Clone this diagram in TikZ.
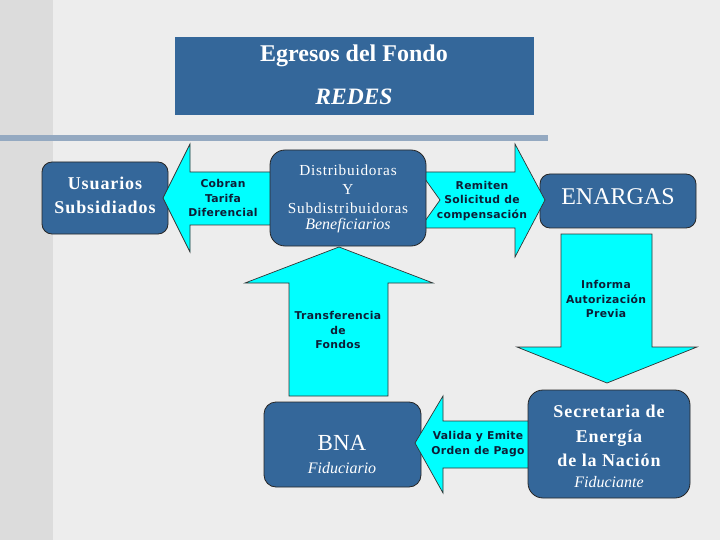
\documentclass[tikz,border=0pt]{standalone}
\usepackage{fontspec}
\setmainfont{Liberation Serif}
\newfontfamily\spserif[LetterSpace=5]{Liberation Serif}
\newfontfamily\arrfont[LetterSpace=3]{DejaVu Sans}
\definecolor{bg}{HTML}{EDEDED}
\definecolor{strip}{HTML}{DCDCDC}
\definecolor{barc}{HTML}{94A9C1}
\definecolor{boxc}{HTML}{34679A}
\definecolor{arrc}{HTML}{00FFFF}
\definecolor{arrtext}{HTML}{0E1E36}
\tikzset{
  box/.style={draw=black!85, line width=0.8pt, fill=boxc, inner sep=0pt},
  arr/.style={draw=black!80, line width=0.7pt, fill=arrc, line join=miter},
  wtxt/.style={text=white, align=center, inner sep=0pt},
  atxt/.style={text=arrtext, align=center, inner sep=0pt,
    font={\arrfont\bfseries\fontsize{10.8}{14.3}\selectfont}}
}
\begin{document}
\begin{tikzpicture}[x=1pt,y=-1pt]
\useasboundingbox (0,0) rectangle (720,540);
% background
\fill[bg] (0,0) rectangle (720,540);
\fill[strip] (0,0) rectangle (53,540);
\fill[barc] (0,135) rectangle (548,141);
% title
\node[fill=boxc, inner sep=0pt, minimum width=359pt, minimum height=78pt] (title) at (354.5,76) {};
\node[wtxt, font={\fontsize{24}{26}\selectfont}] (titleA) at (354,56) {\textbf{Egresos del Fondo}};
\node[wtxt, font={\bfseries\itshape\fontsize{23.5}{26}\selectfont}] (titleB) at (354,97) {REDES};
% boxes underneath arrows
\node[box, rounded corners=10pt, minimum width=126pt, minimum height=72pt] (usu) at (105,198) {};
\node[box, rounded corners=10pt, minimum width=156pt, minimum height=54pt] (ena) at (618,201) {};
\node[box, rounded corners=12pt, minimum width=157pt, minimum height=85pt] (bna) at (342.5,444.5) {};
% arrows
\draw[arr] (163,198) -- (190,144) -- (190,172) -- (280,172) -- (280,225) -- (190,225) -- (190,252) -- cycle;
\draw[arr] (420,172) -- (515,172) -- (515,144) -- (545,200) -- (515,257) -- (515,228) -- (420,228) -- (440,200) -- cycle;
\draw[arr] (561,234) -- (652,234) -- (652,347) -- (697,347) -- (607,383) -- (517,347) -- (561,347) -- cycle;
\draw[arr] (289,396) -- (289,283) -- (245,283) -- (339,247) -- (433,283) -- (388,283) -- (388,396) -- cycle;
\draw[arr] (415,443) -- (443,396) -- (443,421) -- (545,421) -- (545,468) -- (443,468) -- (443,493) -- cycle;
% boxes on top
\node[box, rounded corners=15pt, minimum width=156pt, minimum height=96pt] (dist) at (348,198) {};
\node[box, rounded corners=15pt, minimum width=162pt, minimum height=108pt] (sec) at (609,444) {};
% box texts
\node[wtxt, font={\spserif\bfseries\fontsize{18}{24}\selectfont}] (usuT) at (105,195) {Usuarios\\Subsidiados};
\node[wtxt, font={\spserif\fontsize{15.3}{19}\selectfont}] (distT) at (348,189) {Distribuidoras\\Y\\Subdistribuidoras};
\node[wtxt, font={\itshape\fontsize{16}{19}\selectfont}] (distS) at (348,226) {Beneficiarios};
\node[wtxt, font={\fontsize{24}{28}\selectfont}] (enaT) at (618,197) {ENARGAS};
\node[wtxt, font={\fontsize{23}{26}\selectfont}] (bnaT) at (342,443) {BNA};
\node[wtxt, font={\itshape\fontsize{16}{19}\selectfont}] (bnaS) at (342,468) {Fiduciario};
\node[wtxt, font={\spserif\bfseries\fontsize{18}{24.5}\selectfont}] (secT) at (609,436) {Secretaria de\\Energía\\de la Nación};
\node[wtxt, font={\itshape\fontsize{16}{19}\selectfont}] (secS) at (609,482) {Fiduciante};
% arrow texts
\node[atxt] (cobT) at (223,198) {Cobran\\Tarifa\\Diferencial};
\node[atxt] (remT) at (482,201) {Remiten\\Solicitud de\\compensación};
\node[atxt] (infT) at (606,299) {Informa\\Autorización\\Previa};
\node[atxt] (traT) at (338,330) {Transferencia\\de\\Fondos};
\node[atxt] (valT) at (478,444) {Valida y Emite\\Orden de Pago};
\end{tikzpicture}
\end{document}
